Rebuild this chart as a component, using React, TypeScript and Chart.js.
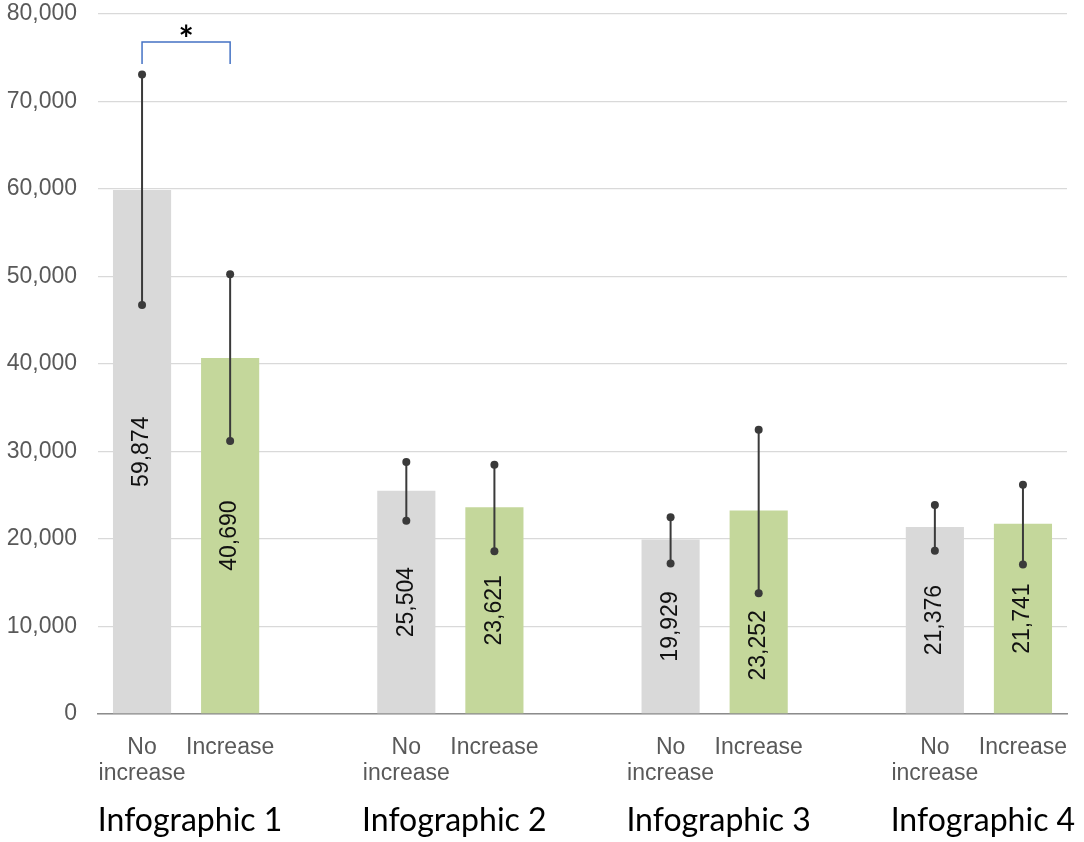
import React, { useEffect, useRef } from "react";
import { Chart, registerables } from "chart.js";

Chart.register(...registerables);

// ---- data ----
const groups = ["Infographic 1", "Infographic 2", "Infographic 3", "Infographic 4"];
const barTypeLabels: string[][] = [["No", "increase"], ["Increase"]];
const noIncrease = [59874, 25504, 19929, 21376];
const increase = [40690, 23621, 23252, 21741];
const noIncreaseLow = [46750, 22100, 17200, 18650];
const noIncreaseHigh = [73100, 28800, 22500, 23900];
const increaseLow = [31200, 18600, 13800, 17100];
const increaseHigh = [50250, 28500, 32500, 26200];
const yTicks = [0, 10000, 20000, 30000, 40000, 50000, 60000, 70000, 80000];
const bracketTop = 76800;
const bracketBottom = 74300;
const starValue = 78000;

const GREY = "#d9d9d9";
const GREEN = "#c4d79b";

function buildSlots() {
  const labels: (string | string[])[] = [];
  const values: (number | null)[] = [];
  const colors: string[] = [];
  const lows: (number | null)[] = [];
  const highs: (number | null)[] = [];
  groups.forEach((_, i) => {
    labels.push(barTypeLabels[0]);
    values.push(noIncrease[i]);
    colors.push(GREY);
    lows.push(noIncreaseLow[i]);
    highs.push(noIncreaseHigh[i]);
    labels.push(barTypeLabels[1]);
    values.push(increase[i]);
    colors.push(GREEN);
    lows.push(increaseLow[i]);
    highs.push(increaseHigh[i]);
    if (i < groups.length - 1) {
      labels.push("");
      values.push(null);
      colors.push("rgba(0,0,0,0)");
      lows.push(null);
      highs.push(null);
    }
  });
  return { labels, values, colors, lows, highs };
}

const fmt = (v: number) => v.toLocaleString("en-US");

export default function App() {
  const ref = useRef<HTMLCanvasElement | null>(null);

  useEffect(() => {
    document.body.style.margin = "0";
    const canvas = ref.current;
    if (!canvas) return;
    const slots = buildSlots();

    const overlay = {
      id: "overlay",
      afterDatasetsDraw(chart: any) {
        const ctx = chart.ctx;
        const y = chart.scales.y;
        const x = chart.scales.x;
        const meta = chart.getDatasetMeta(0);
        ctx.save();
        // value labels (centred in bar; moved below the error-bar end if they would collide)
        ctx.font = '23px "Liberation Sans", Arial, sans-serif';
        meta.data.forEach((bar: any, i: number) => {
          const v = slots.values[i];
          if (v == null) return;
          const text = fmt(v);
          const half = ctx.measureText(text).width / 2;
          let cy = (bar.y + bar.base) / 2;
          const lo = slots.lows[i];
          if (lo != null) {
            const dot = y.getPixelForValue(lo);
            if (dot > cy - half - 10 && dot < cy + half + 10) {
              cy = dot + 17 + half;
            }
          }
          ctx.save();
          ctx.translate(bar.x, cy);
          ctx.rotate(-Math.PI / 2);
          ctx.fillStyle = "#111111";
          ctx.textAlign = "center";
          ctx.textBaseline = "middle";
          ctx.fillText(text, 0, 0);
          ctx.restore();
        });
        // error bars
        meta.data.forEach((bar: any, i: number) => {
          const lo = slots.lows[i];
          const hi = slots.highs[i];
          if (lo == null || hi == null) return;
          const y1 = y.getPixelForValue(lo);
          const y2 = y.getPixelForValue(hi);
          ctx.strokeStyle = "#3a3a3a";
          ctx.lineWidth = 2;
          ctx.beginPath();
          ctx.moveTo(bar.x, y1);
          ctx.lineTo(bar.x, y2);
          ctx.stroke();
          ctx.fillStyle = "#3a3a3a";
          [y1, y2].forEach((py) => {
            ctx.beginPath();
            ctx.arc(bar.x, py, 4, 0, Math.PI * 2);
            ctx.fill();
          });
        });
        // significance bracket
        const bx1 = meta.data[0].x;
        const bx2 = meta.data[1].x;
        const yt = y.getPixelForValue(bracketTop);
        const yb = y.getPixelForValue(bracketBottom);
        ctx.strokeStyle = "#4472c4";
        ctx.lineWidth = 1.5;
        ctx.beginPath();
        ctx.moveTo(bx1, yb);
        ctx.lineTo(bx1, yt);
        ctx.lineTo(bx2, yt);
        ctx.lineTo(bx2, yb);
        ctx.stroke();
        ctx.fillStyle = "#000";
        ctx.font = 'bold 36px Lato, "Noto Sans", sans-serif';
        ctx.textAlign = "center";
        ctx.textBaseline = "middle";
        ctx.fillText("*", (bx1 + bx2) / 2, y.getPixelForValue(starValue) + 9);
        // group labels
        ctx.font = '32px Lato, "Noto Sans", sans-serif';
        ctx.textBaseline = "alphabetic";
        groups.forEach((g, i) => {
          const cx = (x.getPixelForValue(i * 3) + x.getPixelForValue(i * 3 + 1)) / 2;
          ctx.fillText(g, cx + 4, chart.chartArea.bottom + 117);
        });
        ctx.restore();
      },
    };

    const chart = new Chart(canvas, {
      type: "bar",
      data: {
        labels: slots.labels,
        datasets: [
          {
            data: slots.values,
            backgroundColor: slots.colors,
            borderWidth: 0,
            categoryPercentage: 1,
            barPercentage: 0.66,
          },
        ],
      },
      options: {
        responsive: false,
        animation: false,
        devicePixelRatio: 1,
        layout: { padding: { top: 14, right: 17, left: 0, bottom: 0 } },
        plugins: { legend: { display: false }, tooltip: { enabled: false } },
        scales: {
          x: {
            grid: { display: false },
            border: { display: true, color: "#8c8c8c", width: 1.5 },
            ticks: {
              color: "#595959",
              font: { family: '"Liberation Sans", Arial, sans-serif', size: 23, lineHeight: 1.16 },
              padding: 12,
              maxRotation: 0,
              autoSkip: false,
            },
            afterFit(scale: any) {
              scale.height = 128;
              scale.paddingLeft = 0;
              scale.paddingRight = 0;
            },
          },
          y: {
            min: 0,
            max: 80000,
            afterBuildTicks(scale: any) {
              scale.ticks = yTicks.map((v) => ({ value: v }));
            },
            grid: { color: "#d9d9d9", lineWidth: 1.3, drawTicks: false },
            border: { display: false },
            ticks: {
              color: "#595959",
              font: { family: '"Liberation Sans", Arial, sans-serif', size: 23 },
              padding: 21,
              callback: (v: any) => fmt(Number(v)),
            },
            afterFit(scale: any) {
              scale.width = 98;
              scale.paddingTop = 0;
              scale.paddingBottom = 0;
            },
          },
        },
      },
      plugins: [overlay],
    });
    return () => chart.destroy();
  }, []);

  return (
    <div style={{ width: 1084, height: 842 }}>
      <canvas ref={ref} width={1084} height={842} />
    </div>
  );
}
